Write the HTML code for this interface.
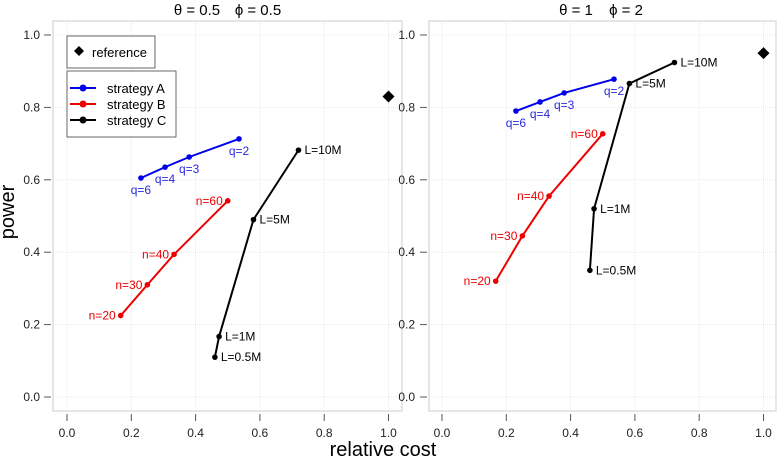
<!DOCTYPE html>
<html><head><meta charset="utf-8"><style>
body{margin:0;background:#fff;}
svg text{font-family:"Liberation Sans","DejaVu Sans",sans-serif;}
</style></head><body>
<svg id="chart" width="777" height="462" viewBox="0 0 777 462" xmlns="http://www.w3.org/2000/svg">
<text x="14" y="212" font-size="20" text-anchor="middle" transform="rotate(-90 14 212)" fill="#000">power</text>
<text x="383" y="456" font-size="20" text-anchor="middle" fill="#000">relative cost</text>
<g id="legend">
<rect x="67" y="36" width="88" height="32" fill="#fff" stroke="#444" stroke-width="0.8"/>
<path d="M79 46 L84 51 L79 56 L74 51 Z" fill="#000"/>
<text x="92" y="57" font-size="13">reference</text>
<rect x="67" y="71" width="109" height="66" fill="#fff" stroke="#444" stroke-width="0.8"/>
<g><line x1="70" y1="88" x2="96" y2="88" stroke="#0000ee" stroke-width="2"/><circle cx="83" cy="88" r="3.5" fill="#0000ee"/><text x="107" y="93" font-size="13">strategy A</text></g>
<g><line x1="70" y1="104" x2="96" y2="104" stroke="#ee0000" stroke-width="2"/><circle cx="83" cy="104" r="3.5" fill="#ee0000"/><text x="107" y="109" font-size="13">strategy B</text></g>
<g><line x1="70" y1="120" x2="96" y2="120" stroke="#000" stroke-width="2"/><circle cx="83" cy="120" r="3.5" fill="#000"/><text x="107" y="125" font-size="13">strategy C</text></g>
</g>
</svg>
<script>
const xTicks=[0,0.2,0.4,0.6,0.8,1.0];
const yTicks=[0,0.2,0.4,0.6,0.8,1.0];
const tickLabels=["0.0","0.2","0.4","0.6","0.8","1.0"];
const thetaTitles=["\u03B8 = 0.5","\u03B8 = 1"];
const phiTitles=["\u03D5 = 0.5","\u03D5 = 2"];
const costA=[0.23,0.305,0.38,0.535];
const powerA1=[0.605,0.635,0.663,0.713];
const powerA2=[0.79,0.815,0.84,0.878];
const labelsA=["q=6","q=4","q=3","q=2"];
const costB=[0.167,0.25,0.333,0.5];
const powerB1=[0.225,0.31,0.394,0.542];
const powerB2=[0.32,0.445,0.555,0.727];
const labelsB=["n=20","n=30","n=40","n=60"];
const costC1=[0.46,0.473,0.58,0.72];
const costC2=[0.46,0.473,0.583,0.723];
const powerC1=[0.11,0.167,0.49,0.682];
const powerC2=[0.35,0.52,0.866,0.924];
const labelsC=["L=0.5M","L=1M","L=5M","L=10M"];
const refCost=[1.0,1.0];
const refPower=[0.83,0.95];

const NS="http://www.w3.org/2000/svg";
const svg=document.getElementById('chart');
const legend=document.getElementById('legend');
function mk(tag,attrs,parent){
 const e=document.createElementNS(NS,tag);
 for(const k in attrs)e.setAttribute(k,attrs[k]);
 if(parent)parent.appendChild(e);else svg.insertBefore(e,legend);
 return e;
}
const panels=[
 {x0:67,bx0:53,bx1:402,tx:40,tk0:44,tk1:51,t1:197,t2:258},
 {x0:442,bx0:429,bx1:776,tx:415,tk0:420,tk1:427,t1:576,t2:626}
];
const series=[
 {cost:[costA,costA],pw:[powerA1,powerA2],labels:labelsA,color:"#0000ee",pos:"below"},
 {cost:[costB,costB],pw:[powerB1,powerB2],labels:labelsB,color:"#ee0000",pos:"left"},
 {cost:[costC1,costC2],pw:[powerC1,powerC2],labels:labelsC,color:"#000",pos:"right"}
];
panels.forEach((p,pi)=>{
 const sx=v=>p.x0+v*321.5;
 const sy=v=>397-v*362;
 const g=mk('g',{});
 
 
 const t=mk('text',{x:p.t1,y:15,'font-size':15,'text-anchor':'middle'},g);
 t.textContent=thetaTitles[pi];
 
 
 const t2=mk('text',{x:p.t2,y:15,'font-size':15,'text-anchor':'middle'},g);
 t2.textContent=phiTitles[pi];
 
 
 xTicks.forEach((v,i)=>{
  const gl=mk('line',{x1:sx(v),x2:sx(v),y1:21,y2:411,stroke:'#e8e8e8','stroke-dasharray':'1 1'},g);
  
  
  const tk=mk('line',{x1:sx(v),x2:sx(v),y1:414,y2:421,stroke:'#555'},g);
  
  
  const tl=mk('text',{x:sx(v),y:437,'font-size':12,'text-anchor':'middle',fill:'#222'},g);
  tl.textContent=tickLabels[i];
  
  
 });
 yTicks.forEach((v,i)=>{
  const gl=mk('line',{x1:p.bx0,x2:p.bx1,y1:sy(v),y2:sy(v),stroke:'#e8e8e8','stroke-dasharray':'1 1'},g);
  
  
  const tk=mk('line',{x1:p.tk0,x2:p.tk1,y1:sy(v),y2:sy(v),stroke:'#555'},g);
  
  
  const tl=mk('text',{x:p.tx,y:sy(v)+4,'font-size':12,'text-anchor':'end',fill:'#222'},g);
  tl.textContent=tickLabels[i];
  
  
 });
 const box=mk('rect',{x:p.bx0,y:21,width:p.bx1-p.bx0,height:390,fill:'none',stroke:'#d4d4d4','stroke-width':1.2},g);
 
 
 series.forEach((s,si)=>{
  const cs=s.cost[pi],ps=s.pw[pi];
  const pts=cs.map((c,i)=>sx(c)+','+sy(ps[i])).join(' ');
  const pl=mk('polyline',{points:pts,fill:'none',stroke:s.color,'stroke-width':2},g);
  
  
  cs.forEach((c,i)=>{
   const cx=sx(c),cy=sy(ps[i]);
   const pt=mk('circle',{cx:cx,cy:cy,r:2.8,fill:s.color},g);
   
   
   let a={'font-size':12,fill:s.color==="#0000ee"?"#2a2ae0":s.color};
   if(s.pos==='below'){a.x=cx;a.y=cy+16;a['text-anchor']='middle';}
   else if(s.pos==='left'){a.x=cx-5;a.y=cy+4;a['text-anchor']='end';}
   else{a.x=cx+6;a.y=cy+4;a['text-anchor']='start';}
   const lb=mk('text',a,g);
   lb.textContent=s.labels[i];
   
   
  });
 });
 const rx=sx(refCost[pi]),ry=sy(refPower[pi]);
 const rm=mk('path',{d:`M${rx} ${ry-6} L${rx+6} ${ry} L${rx} ${ry+6} L${rx-6} ${ry} Z`,fill:'#000'},g);
 
 
});
</script>
</body></html>
